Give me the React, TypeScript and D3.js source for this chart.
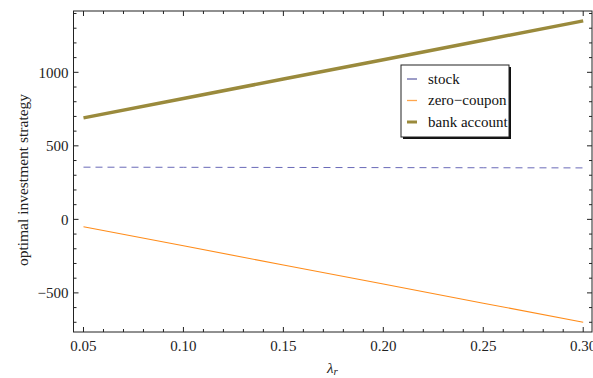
import React from "react";
import * as d3 from "d3";

const lambdas = [0.05, 0.1, 0.15, 0.2, 0.25, 0.3];
const stock = [355, 354, 353, 352, 351, 350];
const zeroCoupon = [-50, -180, -310, -440, -570, -700];
const bankAccount = [690, 822, 954, 1086, 1218, 1350];
const xTicks = [0.05, 0.1, 0.15, 0.2, 0.25, 0.3];
const yTicks = [-500, 0, 500, 1000];
const seriesNames = ["stock", "zero\u2212coupon", "bank account"];

const W = 593, H = 378;
const L = 73.5, R = 592, T = 11, B = 332;

export default function App() {
  const x = d3.scaleLinear().domain([0.045, 0.3044]).range([L, R]);
  const y = d3.scaleLinear().domain([-766, 1417]).range([B, T]);
  const line = (vals: number[]) =>
    d3.line<number>().x((_, i) => x(lambdas[i])).y((v) => y(v))(vals) || "";
  const xMinor = d3.range(0.05, 0.3001, 0.01);
  const yMinor = d3.range(-700, 1401, 100);
  const font = "Liberation Serif, Times New Roman, Times, serif";
  const lx = 401, ly = 65, lw = 108, lh = 72;
  const legendItems = [
    { name: seriesNames[0], color: "#3b3b8f", w: 1 },
    { name: seriesNames[1], color: "#ffa64d", w: 1.3 },
    { name: seriesNames[2], color: "#9a8a3c", w: 3 },
  ];
  return (
    <svg width={W} height={H} style={{ position: "absolute", left: 0, top: 0, fontFamily: font }}>
      <rect width={W} height={H} fill="white" />
      <path d={line(bankAccount)} fill="none" stroke="#9a8a3c" strokeWidth={3.5} />
      <path d={line(stock)} fill="none" stroke="#6a6ab8" strokeWidth={1} strokeDasharray="7,5" />
      <path d={line(zeroCoupon)} fill="none" stroke="#ff8c1a" strokeWidth={1.1} />
      <rect x={L} y={T} width={R - L} height={B - T} fill="none" stroke="#222" strokeWidth={1} />
      {xMinor.map((v, i) => (
        <g key={"xm" + i}>
          <line x1={x(v)} x2={x(v)} y1={B} y2={B - (i % 5 === 0 ? 5 : 3)} stroke="#222" />
          <line x1={x(v)} x2={x(v)} y1={T} y2={T + (i % 5 === 0 ? 5 : 3)} stroke="#222" />
        </g>
      ))}
      {yMinor.map((v, i) => {
        const major = Math.round(v) % 500 === 0;
        return (
          <g key={"ym" + i}>
            <line x1={L} x2={L + (major ? 5 : 3)} y1={y(v)} y2={y(v)} stroke="#222" />
            <line x1={R} x2={R - (major ? 5 : 3)} y1={y(v)} y2={y(v)} stroke="#222" />
          </g>
        );
      })}
      {xTicks.map((v) => (
        <text key={"xt" + v} x={x(v)} y={351} textAnchor="middle" fontSize={15} fill="#222" style={{ fontFamily: font }}>
          {v.toFixed(2)}
        </text>
      ))}
      {yTicks.map((v) => (
        <text key={"yt" + v} x={68.5} y={y(v) + 5.5} textAnchor="end" fontSize={15} fill="#222" style={{ fontFamily: font }}>
          {v < 0 ? "\u2212" + Math.abs(v) : String(v)}
        </text>
      ))}
      <text x={327} y={373} fontSize={15} fontStyle="italic" fill="#222" style={{ fontFamily: font }}>
        λ<tspan fontSize={11} dy={2}>r</tspan>
      </text>
      <text transform={`translate(28,180) rotate(-90)`} textAnchor="middle" fontSize={15.5} fill="#222" style={{ fontFamily: font }}>
        optimal investment strategy
      </text>
      <rect x={lx + 2} y={ly + 2} width={lw} height={lh} fill="#111" />
      <rect x={lx} y={ly} width={lw} height={lh} fill="white" stroke="#222" strokeWidth={1} />
      {legendItems.map((it, i) => {
        const cy = ly + 14 + i * 21.5;
        return (
          <g key={it.name}>
            <line x1={lx + 6} x2={lx + 16} y1={cy} y2={cy} stroke={it.color} strokeWidth={it.w} />
            <text x={lx + 27} y={cy + 4.5} fontSize={15} fill="#111" style={{ fontFamily: font }}>
              {it.name}
            </text>
          </g>
        );
      })}
    </svg>
  );
}
